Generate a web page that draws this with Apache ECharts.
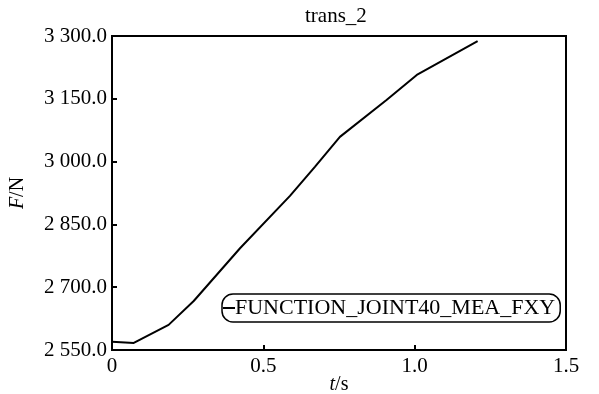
<!DOCTYPE html>
<html>
<head>
<meta charset="utf-8">
<script src="https://cdn.jsdelivr.net/npm/echarts@6/dist/echarts.min.js"></script>
<style>
  html, body { margin: 0; padding: 0; background: #fff; }
  #main { width: 599px; height: 394px; }
</style>
</head>
<body>
<div id="main"></div>
<script>
var timeS = [0, 0.072, 0.187, 0.27, 0.423, 0.588, 0.671, 0.753, 0.907, 1.007, 1.208];
var forceN = [2570, 2567, 2610, 2667, 2793, 2918, 2988, 3059, 3147, 3207, 3288];
var seriesName = 'FUNCTION_JOINT40_MEA_FXY';

var font = '"Liberation Serif", "Times New Roman", serif';

function spaced(v) {
  // 3300 -> "3 300.0"
  var s = v.toFixed(1);
  var parts = s.split('.');
  var ip = parts[0].replace(/\B(?=(\d{3})+(?!\d))/g, ' ');
  return ip + '.' + parts[1];
}

var chart = echarts.init(document.getElementById('main'));
var pts = timeS.map(function (t, i) { return [t, forceN[i]]; });

chart.setOption({
  animation: false,
  title: {
    text: 'trans_2',
    left: 300,
    top: 1,
    textStyle: { fontFamily: font, fontSize: 21, fontWeight: 'normal', color: '#000' }
  },
  grid: {
    left: 112, right: 33, top: 36, bottom: 44,
    outerBoundsMode: 'none',
    show: true, borderColor: '#000', borderWidth: 2, backgroundColor: 'transparent'
  },
  legend: {
    left: 222, top: 294,
    data: [seriesName],
    itemWidth: 12, itemHeight: 2, itemGap: 0,
    padding: [3, 5, 3, 0],
    borderColor: '#000', borderWidth: 1.5, borderRadius: 11,
    textStyle: { fontFamily: font, fontSize: 22, color: '#000', padding: [0, 0, 0, -5] }
  },
  xAxis: {
    type: 'value', min: 0, max: 1.5, interval: 0.5,
    name: '{i|t}/s', nameLocation: 'middle', nameGap: 25,
    nameMoveOverlap: false,
    nameTextStyle: {
      fontFamily: font, fontSize: 20, color: '#000',
      rich: { i: { fontFamily: font, fontSize: 20, fontStyle: 'italic', color: '#000' } }
    },
    axisLine: { lineStyle: { color: '#000', width: 2 } },
    axisTick: { inside: true, length: 5, lineStyle: { color: '#000', width: 2 } },
    axisLabel: {
      fontFamily: font, fontSize: 21, color: '#000', margin: 6,
      formatter: function (v) { return v === 0 ? '0' : v.toFixed(1); }
    },
    splitLine: { show: false }
  },
  yAxis: {
    type: 'value', min: 2550, max: 3300, interval: 150,
    name: '{i|F}/N', nameLocation: 'middle', nameGap: 84,
    nameMoveOverlap: false,
    nameTextStyle: {
      fontFamily: font, fontSize: 20, color: '#000',
      rich: { i: { fontFamily: font, fontSize: 20, fontStyle: 'italic', color: '#000' } }
    },
    axisLine: { lineStyle: { color: '#000', width: 2 } },
    axisTick: { inside: true, length: 5, lineStyle: { color: '#000', width: 2 } },
    axisLabel: {
      fontFamily: font, fontSize: 21, color: '#000', margin: 5,
      formatter: spaced
    },
    splitLine: { show: false }
  },
  series: [{
    name: seriesName,
    type: 'line',
    data: pts,
    symbol: 'none',
    lineStyle: { color: '#000', width: 2 },
    itemStyle: { color: '#000' }
  }]
});
</script>
</body>
</html>
